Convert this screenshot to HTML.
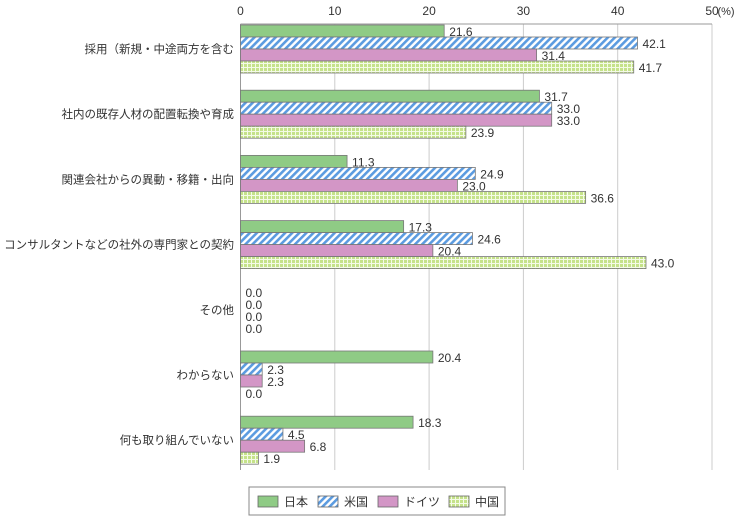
<!DOCTYPE html>
<html><head><meta charset="utf-8"><style>
body{margin:0;background:#fff;width:741px;height:516px;overflow:hidden;font-family:"Liberation Sans","Noto Sans CJK JP",sans-serif}
</style></head><body>
<svg width="741" height="516" font-family="Liberation Sans, Noto Sans CJK JP, sans-serif">
<defs>
<pattern id="hatch" width="5" height="5" patternUnits="userSpaceOnUse" patternTransform="rotate(45)"><rect width="5" height="5" fill="#fff"/><rect width="2.6" height="5" fill="#5b9be0"/></pattern>
<pattern id="grid" width="4" height="4" patternUnits="userSpaceOnUse"><rect width="4" height="4" fill="#c5e28a"/><rect x="3" width="1" height="4" fill="#f4fbe6"/><rect y="3" width="4" height="1" fill="#f4fbe6"/></pattern>
</defs>
<g id="plot"></g>
<g>
<rect x="249" y="487" width="256" height="28" fill="#fff" stroke="#888"/>
<rect x="258" y="496" width="20" height="11" fill="#8fcb85" stroke="#666" stroke-width="0.8"/><text x="284" y="506" font-size="12" fill="#333">日本</text>
<rect x="318" y="496" width="20" height="11" fill="url(#hatch)" stroke="#666" stroke-width="0.8"/><text x="344" y="506" font-size="12" fill="#333">米国</text>
<rect x="378" y="496" width="20" height="11" fill="#d396c6" stroke="#666" stroke-width="0.8"/><text x="404" y="506" font-size="12" fill="#333">ドイツ</text>
<rect x="449" y="496" width="20" height="11" fill="url(#grid)" stroke="#666" stroke-width="0.8"/><text x="475" y="506" font-size="12" fill="#333">中国</text>
</g>
</svg>
<script>
const categories=["採用（新規・中途両方を含む","社内の既存人材の配置転換や育成","関連会社からの異動・移籍・出向","コンサルタントなどの社外の専門家との契約","その他","わからない","何も取り組んでいない"];
const japan=[21.6,31.7,11.3,17.3,0,20.4,18.3];
const usa=[42.1,33.0,24.9,24.6,0,2.3,4.5];
const germany=[31.4,33.0,23.0,20.4,0,2.3,6.8];
const china=[41.7,23.9,36.6,43.0,0,0,1.9];
const ticks=[0,10,20,30,40,50];
const series=[["japan",japan,"#8fcb85"],["usa",usa,"url(#hatch)"],["germany",germany,"#d396c6"],["china",china,"url(#grid)"]];
const NS="http://www.w3.org/2000/svg";
const g=document.getElementById('plot');
const x=v=>240.5+v*9.43;
const y0=24,y1=470,gs=65.2,bh=12;
function el(t,a,txt){const e=document.createElementNS(NS,t);for(const k in a)e.setAttribute(k,a[k]);if(txt!=null)e.textContent=txt;g.appendChild(e);return e;}
ticks.forEach(t=>{
 const l=el('line',{x1:x(t),x2:x(t),y1:y0,y2:y1,stroke:'#ccc'});
 
 
 const tx=el('text',{x:x(t),y:15,'font-size':12,'text-anchor':'middle',fill:'#333'},String(t));
 
 
});
const pu=el('text',{x:x(50)+14,y:15,'font-size':11,'text-anchor':'middle',fill:'#333'},'(%)');


el('line',{x1:240.5,x2:712,y1:y0,y2:y0,stroke:'#999'});
el('line',{x1:240.5,x2:240.5,y1:y0,y2:y1,stroke:'#999'});
categories.forEach((c,i)=>{
 const top=y0+1+i*gs;
 const lb=el('text',{x:234,y:top+bh*2+4,'font-size':11.5,'text-anchor':'end',fill:'#333'},c);
 
 
 series.forEach((s,j)=>{
  const v=s[1][i];const yy=top+j*bh;
  if(v>0){const r=el('rect',{x:240.5,y:yy,width:x(v)-240.5,height:bh,fill:s[2],stroke:'#777','stroke-width':0.8});
  
  }
  const t=el('text',{x:x(v)+5,y:yy+bh-1,'font-size':12,fill:'#333'},v.toFixed(1));
  
  
 });
});
</script>
</body></html>
